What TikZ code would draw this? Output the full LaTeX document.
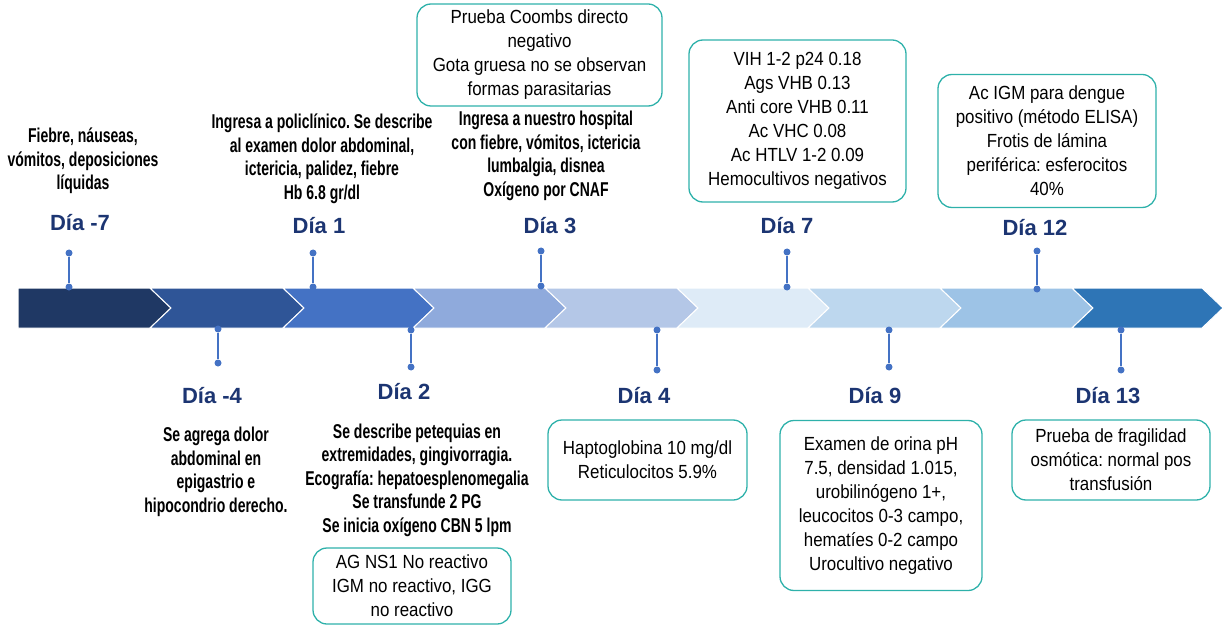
\documentclass[tikz,border=0pt]{standalone}
\usepackage{fontspec}
\setmainfont{Liberation Sans}
\newfontfamily\narrowfont[FakeStretch=0.89]{Liberation Sans}
\newfontfamily\condfont[FakeStretch=0.70]{Liberation Sans}
\usepackage{tikz}
\usetikzlibrary{positioning}
\frenchspacing

\definecolor{chevA}{HTML}{1F3864}
\definecolor{chevB}{HTML}{2F5597}
\definecolor{chevC}{HTML}{4472C4}
\definecolor{chevD}{HTML}{8FAADC}
\definecolor{chevE}{HTML}{B4C7E7}
\definecolor{chevF}{HTML}{DEEBF7}
\definecolor{chevG}{HTML}{BDD7EE}
\definecolor{chevH}{HTML}{9DC3E6}
\definecolor{chevI}{HTML}{2E75B6}
\definecolor{pinblue}{HTML}{4472C4}
\definecolor{daynavy}{HTML}{1C3572}
\definecolor{boxteal}{HTML}{2EB1AA}

\tikzset{
  daylabel/.style={font=\bfseries\fontsize{22}{26}\selectfont, text=daynavy},
  eventtext/.style={align=center, font=\condfont\bfseries\fontsize{20}{23.5}\selectfont},
  resultbox/.style={draw=boxteal, line width=1.3pt, rounded corners=14pt, align=center,
    font=\narrowfont\fontsize{19}{24}\selectfont, inner sep=0pt},
  pindot/.style={circle, fill=pinblue, inner sep=0pt, minimum size=7pt},
  pinline/.style={draw=pinblue, line width=1.8pt},
}

\begin{document}
\begin{tikzpicture}[x=1pt, y=-1pt]

% Page frame
\useasboundingbox (0,0) rectangle (1225,636);

% Chevron band
\foreach \xa/\xb/\nt/\col in {18/150/0/chevA, 150/283/21/chevB, 283/413/21/chevC,
    413/545/21/chevD, 545/677/21/chevE, 677/808/21/chevF, 808/940/21/chevG,
    940/1072/21/chevH, 1072/1202/21/chevI}
  \filldraw[fill=\col, draw=white, line width=1pt]
    (\xa,288) -- (\xb,288) -- (\xb+21,308) -- (\xb,328) -- (\xa,328) -- (\xa+\nt,308) -- cycle;

% Pins above the band
\node[pindot] (m7top) at (69,253) {};   \node[pindot] (m7bot) at (69,287) {};
\node[pindot] (d1top) at (313,253) {};  \node[pindot] (d1bot) at (313,287) {};
\node[pindot] (d3top) at (541,251) {};  \node[pindot] (d3bot) at (541,286) {};
\node[pindot] (d7top) at (787,252) {};  \node[pindot] (d7bot) at (787,287) {};
\node[pindot] (d12top) at (1037,251) {}; \node[pindot] (d12bot) at (1037,289) {};
\draw[pinline] (m7top) -- (m7bot);
\draw[pinline] (d1top) -- (d1bot);
\draw[pinline] (d3top) -- (d3bot);
\draw[pinline] (d7top) -- (d7bot);
\draw[pinline] (d12top) -- (d12bot);

% Pins below the band
\node[pindot] (m4top) at (218,329) {};  \node[pindot] (m4bot) at (218,363) {};
\node[pindot] (d2top) at (411,330) {};  \node[pindot] (d2bot) at (411,367) {};
\node[pindot] (d4top) at (657,330) {};  \node[pindot] (d4bot) at (657,370) {};
\node[pindot] (d9top) at (889,330) {};  \node[pindot] (d9bot) at (889,367) {};
\node[pindot] (d13top) at (1121,330) {}; \node[pindot] (d13bot) at (1121,370) {};
\draw[pinline] (m4top) -- (m4bot);
\draw[pinline] (d2top) -- (d2bot);
\draw[pinline] (d4top) -- (d4bot);
\draw[pinline] (d9top) -- (d9bot);
\draw[pinline] (d13top) -- (d13bot);

% Day labels
\node[daylabel] (lm7) at (80,223) {Día -7};
\node[daylabel] (l1) at (319,226) {Día 1};
\node[daylabel] (l3) at (550,226) {Día 3};
\node[daylabel] (l7) at (787,226) {Día 7};
\node[daylabel] (l12) at (1035,228) {Día 12};
\node[daylabel] (lm4) at (212,396) {Día -4};
\node[daylabel] (l2) at (404,392) {Día 2};
\node[daylabel] (l4) at (644,396) {Día 4};
\node[daylabel] (l9) at (875,396) {Día 9};
\node[daylabel] (l13) at (1108,396) {Día 13};

% Clinical events
\node[eventtext] (fever) at (83,161) {Fiebre, náuseas,\\vómitos, deposiciones\\líquidas};
\node[eventtext] (poli) at (322,159) {Ingresa a policlínico. Se describe\\al examen dolor abdominal,\\ictericia, palidez, fiebre\\Hb 6.8 gr/dl};
\node[eventtext] (hosp) at (546,156) {Ingresa a nuestro hospital\\con fiebre, vómitos, ictericia\\lumbalgia, disnea\\Oxígeno por CNAF};
\node[eventtext] (abdo) at (216,472) {Se agrega dolor\\abdominal en\\epigastrio e\\hipocondrio derecho.};
\node[eventtext] (pete) at (417,480) {Se describe petequias en\\extremidades, gingivorragia.\\Ecografía: hepatoesplenomegalia\\Se transfunde 2 PG\\Se inicia oxígeno CBN 5 lpm};

% Lab result boxes
\node[resultbox, minimum width=245pt, minimum height=102pt] (coombs) at (539.5,55)
  {Prueba Coombs directo\\negativo\\Gota gruesa no se observan\\formas parasitarias};
\node[resultbox, minimum width=217pt, minimum height=162pt] (viral) at (797.5,121)
  {VIH 1-2 p24 0.18\\Ags VHB 0.13\\Anti core VHB 0.11\\Ac VHC 0.08\\Ac HTLV 1-2 0.09\\Hemocultivos negativos};
\node[resultbox, minimum width=218pt, minimum height=133pt] (dengue) at (1047,141)
  {Ac IGM para dengue\\positivo (método ELISA)\\Frotis de lámina\\periférica: esferocitos\\40\%};
\node[resultbox, minimum width=198pt, minimum height=76pt] (ns1) at (412,586)
  {AG NS1 No reactivo\\IGM no reactivo, IGG\\no reactivo};
\node[resultbox, minimum width=199pt, minimum height=80pt] (hapto) at (647.5,460)
  {Haptoglobina 10 mg/dl\\Reticulocitos 5.9\%};
\node[resultbox, minimum width=202pt, minimum height=170pt] (orina) at (881,505.5)
  {Examen de orina pH\\7.5, densidad 1.015,\\urobilinógeno 1+,\\leucocitos 0-3 campo,\\hematíes 0-2 campo\\Urocultivo negativo};
\node[resultbox, minimum width=198pt, minimum height=80pt] (osmo) at (1111,460)
  {Prueba de fragilidad\\osmótica: normal pos\\transfusión};

\end{tikzpicture}
\end{document}
